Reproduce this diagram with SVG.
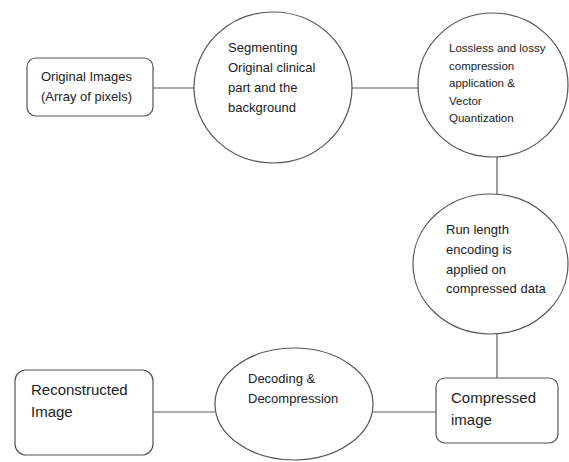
<svg xmlns="http://www.w3.org/2000/svg" width="569" height="462" viewBox="0 0 569 462">
<style>
.shape{fill:#fff;stroke:#555;stroke-width:1.2}
.conn{stroke:#5a5a5a;stroke-width:1.2;fill:none}
text{font-family:"Liberation Sans",Arial,sans-serif;fill:#222;font-size:13px}
.big{font-size:15px}
.sm{font-size:11.5px}
</style>
<rect width="569" height="462" fill="#fff"/>
<g id="connectors">
<line class="conn" x1="153" y1="88" x2="194" y2="88"/>
<line class="conn" x1="352" y1="88" x2="418" y2="88"/>
<line class="conn" x1="497" y1="157" x2="497" y2="195"/>
<line class="conn" x1="497" y1="334" x2="497" y2="378"/>
<line class="conn" x1="373" y1="412" x2="436" y2="412"/>
<line class="conn" x1="153" y1="412" x2="215" y2="412"/>
</g>
<g id="original">
<rect class="shape" x="27" y="58" width="126" height="58" rx="9"/>
<text x="41" y="81">Original Images</text>
<text x="41" y="101">(Array of pixels)</text>
</g>
<g id="segmenting">
<ellipse class="shape" cx="273" cy="87.5" rx="79" ry="75.5"/>
<text x="228" y="52">Segmenting</text>
<text x="228" y="72">Original clinical</text>
<text x="228" y="92">part and the</text>
<text x="228" y="112">background</text>
</g>
<g id="compression">
<ellipse class="shape" cx="493" cy="85" rx="75" ry="72"/>
<text class="sm" x="449" y="52">Lossless and lossy</text>
<text class="sm" x="449" y="69.5">compression</text>
<text class="sm" x="449" y="87">application &amp;</text>
<text class="sm" x="449" y="104.5">Vector</text>
<text class="sm" x="449" y="122">Quantization</text>
</g>
<g id="rle">
<ellipse class="shape" cx="490.5" cy="264" rx="77.5" ry="70"/>
<text x="446" y="234">Run length</text>
<text x="446" y="254">encoding is</text>
<text x="446" y="273.5">applied on</text>
<text x="446" y="293">compressed data</text>
</g>
<g id="compressed">
<rect class="shape" x="436" y="378" width="122" height="65" rx="9"/>
<text class="big" x="451" y="403">Compressed</text>
<text class="big" x="451" y="425">image</text>
</g>
<g id="decoding">
<ellipse class="shape" cx="294" cy="404" rx="79" ry="56"/>
<text x="248" y="383">Decoding &amp;</text>
<text x="248" y="403">Decompression</text>
</g>
<g id="reconstructed">
<rect class="shape" x="15" y="370" width="138" height="85" rx="11"/>
<text class="big" x="31" y="395">Reconstructed</text>
<text class="big" x="31" y="417">Image</text>
</g>
</svg>
